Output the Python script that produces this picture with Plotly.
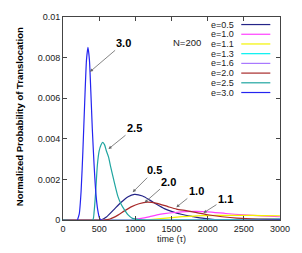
import plotly.graph_objects as go

# ---- data ----
t_30 = [200, 225, 250, 275, 300, 325, 345, 365, 385, 405, 430, 455, 480, 505, 530, 3000]
p_30 = [0, 0.0003, 0.0014, 0.0034, 0.0058, 0.0079, 0.0085, 0.0079, 0.0063, 0.0045, 0.0027, 0.0013, 0.0005, 0.0001, 0, 0]

t_25 = [0, 410, 430, 450, 475, 500, 525, 549, 575, 600, 630, 660, 700, 760, 800, 850, 900, 960, 1050, 1150, 3000]
p_25 = [0, 0, 0.0004, 0.0013, 0.0027, 0.0034, 0.0037, 0.00382, 0.0037, 0.0034, 0.0031, 0.0026, 0.0020, 0.00115,
        0.0008, 0.0005, 0.00025, 0.00008, 0.00002, 0, 0]

t_05 = [0, 518, 600, 700, 800, 900, 987, 1100, 1200, 1300, 1400, 1520, 1650, 1800, 1950, 2100, 2300, 3000]
p_05 = [0, 0, 0.00015, 0.00050, 0.00086, 0.00115, 0.00126, 0.00118, 0.00098, 0.00076, 0.00056, 0.00040,
        0.00027, 0.00017, 0.00008, 0.00002, 0, 0]

t_20 = [0, 560, 650, 760, 850, 950, 1050, 1165, 1300, 1450, 1570, 1700, 1850, 2000, 2200, 2400, 2600, 2800, 3000]
p_20 = [0, 0, 0.00005, 0.00024, 0.00045, 0.00066, 0.00080, 0.00088, 0.00082, 0.00066, 0.00054, 0.00046,
        0.00036, 0.00026, 0.00016, 0.00009, 0.00006, 0.00004, 0.00003]

t_10 = [0, 900, 1000, 1100, 1200, 1300, 1400, 1550, 1700, 1850, 2000, 2250, 2500, 2750, 3000]
p_10 = [0, 0, 0.00003, 0.00009, 0.00017, 0.00025, 0.00031, 0.00037, 0.00041, 0.00042, 0.00040, 0.00032,
        0.00025, 0.00020, 0.00016]

t_11 = [0, 1100, 1200, 1350, 1500, 1650, 1850, 2000, 2250, 2500, 2750, 3000]
p_11 = [0, 0, 0.00002, 0.00007, 0.00012, 0.00017, 0.00020, 0.00022, 0.00023, 0.00023, 0.00022, 0.00021]

t_13 = [0, 1900, 2200, 2500, 2800, 3000]
p_13 = [0, 0, 0.00001, 0.00003, 0.00005, 0.00006]

t_16 = [0, 2400, 2700, 3000]
p_16 = [0, 0, 0.00001, 0.00002]

series = [
    ("e=0.5", t_05, p_05, "#242488"),
    ("e=1.0", t_10, p_10, "#ff40ff"),
    ("e=1.1", t_11, p_11, "#f2f200"),
    ("e=1.3", t_13, p_13, "#00f0f0"),
    ("e=1.6", t_16, p_16, "#a878ff"),
    ("e=2.0", t_20, p_20, "#a82a2a"),
    ("e=2.5", t_25, p_25, "#1fa5a0"),
    ("e=3.0", t_30, p_30, "#2424f0"),
]

x_ticks = [0, 500, 1000, 1500, 2000, 2500, 3000]
y_ticks = [0, 0.002, 0.004, 0.006, 0.008, 0.01]
y_tick_text = ["0", "0.002", "0.004", "0.006", "0.008", "0.01"]

# curve labels: text, arrow tip (time, prob), offset of label (px)
labels = [
    ("3.0", 372, 0.0073, 34, -29),
    ("2.5", 629, 0.0035, 26, -21),
    ("0.5", 964, 0.00137, 22, -22),
    ("2.0", 1129, 0.00086, 24, -21),
    ("1.0", 1567, 0.00063, 20, -16),
    ("1.1", 1942, 0.00035, 22, -14),
]

# ---- figure ----
W, H = 302, 253
L, R, T, B = 63, 287, 13, 220
PW, PH = R - L, B - T
FONT = "Liberation Sans, Arial, sans-serif"

fig = go.Figure()
for name, t, p, c in series:
    fig.add_trace(go.Scatter(x=t, y=p, mode="lines", name=name,
                             line=dict(color=c, width=1.2, shape="spline", smoothing=0.6),
                             showlegend=False))

def px(xp):
    return (xp - L) / PW

def py(yp):
    return (B - yp) / PH

annotations = []
shapes = []
# manual legend (text left, sample line right)
for i, (name, t, p, c) in enumerate(series):
    yy = 20.7 + i * 9.9
    annotations.append(dict(x=px(242), y=py(yy), xref="paper", yref="paper", text=name,
                            showarrow=False, xanchor="right", yanchor="middle",
                            font=dict(family=FONT, size=9, color="#222")))
    shapes.append(dict(type="line", xref="paper", yref="paper", x0=px(247), x1=px(277),
                       y0=py(yy), y1=py(yy), line=dict(color=c, width=1.2)))

annotations.append(dict(x=px(191.5), y=py(31), xref="paper", yref="paper", text="N=200",
                        showarrow=False, font=dict(family=FONT, size=9.5, color="#222")))

for txt, tx, pv, ax, ay in labels:
    annotations.append(dict(x=tx, y=pv, xref="x", yref="y", text="<b>%s</b>" % txt,
                            showarrow=True, arrowhead=2, arrowsize=0.8, arrowwidth=0.8,
                            arrowcolor="#666", ax=ax, ay=ay,
                            font=dict(family=FONT, size=11, color="#000")))

annotations.append(dict(x=px(10), y=py(115), xref="paper", yref="paper",
                        text="<b>Normalized Probability of Translocation</b>", textangle=-90,
                        showarrow=False, font=dict(family=FONT, size=9.5, color="#000")))
annotations.append(dict(x=px(175), y=py(247), xref="paper", yref="paper",
                        text="time (τ)", showarrow=False,
                        font=dict(family=FONT, size=9, color="#222")))

fig.update_layout(
    width=W, height=H,
    margin=dict(l=L, r=W - R, t=T, b=H - B),
    paper_bgcolor="white", plot_bgcolor="white",
    annotations=annotations, shapes=shapes,
    showlegend=False,
)
fig.update_xaxes(range=[0, 3000], tickvals=x_ticks, ticks="inside", ticklen=4,
                 showline=True, linecolor="#444", linewidth=1, mirror="allticks",
                 showgrid=False, zeroline=False,
                 tickfont=dict(family=FONT, size=9, color="#222"))
fig.update_yaxes(range=[0, 0.01], tickvals=y_ticks, ticktext=y_tick_text, ticks="inside", ticklen=4,
                 showline=True, linecolor="#444", linewidth=1, mirror="allticks",
                 showgrid=False, zeroline=False,
                 tickfont=dict(family=FONT, size=9, color="#222"))

fig.write_html("out.html", config={"displayModeBar": False},
               post_script="document.body.style.margin='0';document.body.style.overflow='hidden';")
